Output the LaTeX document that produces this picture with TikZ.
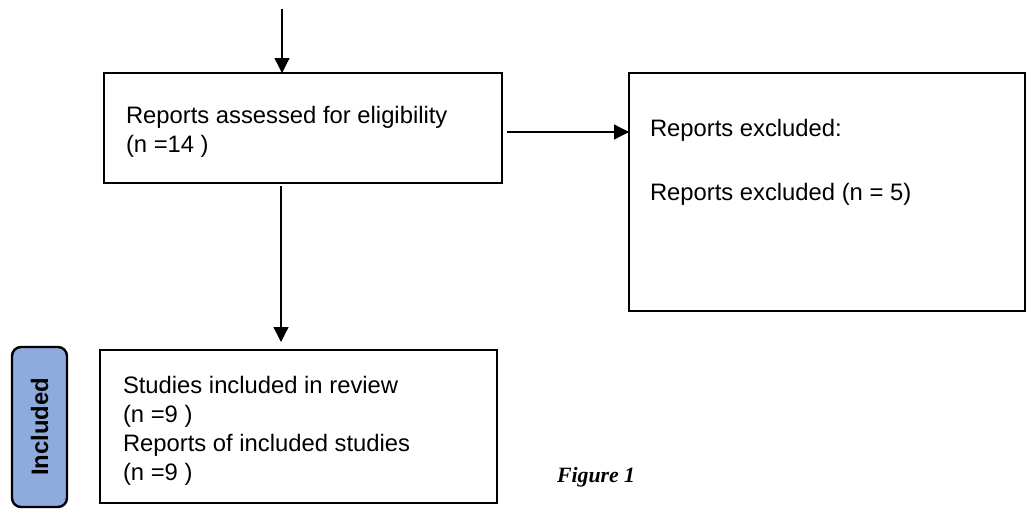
\documentclass[tikz,border=0pt]{standalone}
\usepackage{fontspec}
\setmainfont{Liberation Sans}
\newfontfamily\capfont{Liberation Serif}
\usetikzlibrary{arrows.meta}
\tikzset{>={Triangle[length=15pt,width=15pt]},inner sep=0pt, outer sep=0pt,}
\tikzset{
	box/.style={draw, line width=2.4pt},
	txt/.style={align=left, anchor=base west, font=\fontsize{23.8}{29}\selectfont},
	link/.style={->, line width=1.3pt},
}
\definecolor{phaseblue}{HTML}{8FAADC}

\begin{document}
\begin{tikzpicture}[x=1pt,y=-1pt]
				\useasboundingbox (0,0) rectangle (1028,509);
				
				\node[box, minimum width=398pt, minimum height=110pt] (assessed) at (303,128) {};
				\node[box, minimum width=396pt, minimum height=238pt] (excluded) at (827,192) {};
				\node[box, minimum width=397pt, minimum height=153pt] (included) at (298.5,426.5) {};
				\node[box, fill=phaseblue, rounded corners=9pt, minimum width=55pt, minimum height=160pt] (phase) at (39.5,427) {};
				
				% base anchor sits on the last line
				\node[txt] (tassessed) at (126,152) {Reports assessed for eligibility\\(n =14 )};
				\node[txt] (texcluded) at (650,200) {Reports excluded:\\[35pt]Reports excluded (n = 5)};
				\node[txt] (tincluded) at (123,480) {Studies included in review\\(n =9 )\\Reports of included studies\\(n =9 )};
				\node[rotate=90, font=\fontsize{23.8}{29}\selectfont\bfseries] (tphase) at (phase) {Included};
				\node[anchor=base west, font=\fontsize{21.8}{26}\selectfont\capfont\bfseries\itshape] (caption) at (557,482) {Figure 1};
				
				\coordinate (S) at (282,9);
				\coordinate (E) at (507,132);
				\coordinate (P) at (281,186);
				\coordinate (Q) at (281,342);
				
				\draw[link] (S)--(S |- assessed.north);
				\draw[link] (E)--(E -| excluded.west);
				\draw[link] (P)--(Q);
			\end{tikzpicture}
\end{document}
